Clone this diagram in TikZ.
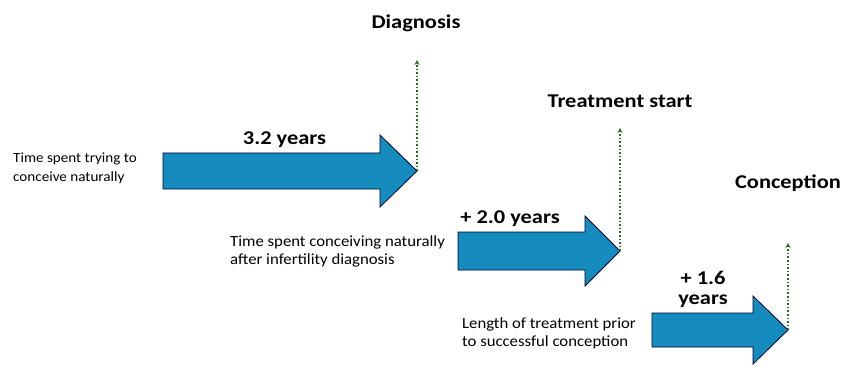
\documentclass[tikz,border=0pt]{standalone}
\usetikzlibrary{arrows.meta}
\usepackage{fontspec}
\setmainfont{Carlito}
\newfontfamily\headfont[FakeStretch=1.15]{Carlito}
\newfontfamily\descfont[FakeStretch=1.08]{Carlito}
\begin{document}
\begin{tikzpicture}[x=1pt,y=-1pt,
  bigarrow/.style={draw=black!80!blue, line width=0.8pt, fill={rgb,255:red,22;green,140;blue,190}},
  mark line/.style={draw={rgb,255:red,40;green,110;blue,30}, line width=1.6pt, dotted, -{Stealth[length=5pt,width=5pt]}},
  milestone/.style={font=\headfont\bfseries\fontsize{19.5}{20}\selectfont, inner sep=0pt, anchor=base},
  dur/.style={font=\headfont\bfseries\fontsize{19.5}{20}\selectfont, inner sep=0pt, anchor=base, align=center},
  desc/.style={font=\descfont\fontsize{15.5}{18}\selectfont, inner sep=0pt, align=left, anchor=base west}]
\useasboundingbox (0,0) rectangle (845,366);
% arrows
\draw[bigarrow] (163,153) -- (380,153) -- (380,135) -- (417,171) -- (380,207) -- (380,189) -- (163,189) -- cycle;
\draw[bigarrow] (458,232) -- (585,232) -- (585,216) -- (620,251) -- (585,286) -- (585,270) -- (458,270) -- cycle;
\draw[bigarrow] (652,313) -- (753,313) -- (753,296) -- (788,330) -- (753,364) -- (753,347) -- (652,347) -- cycle;
% tips and tops
\coordinate (t1) at (417,171);
\coordinate (u1) at (417,60);
\coordinate (t2) at (620,251);
\coordinate (u2) at (620,128);
\coordinate (t3) at (788,330);
\coordinate (u3) at (788,243);
\draw[mark line] (t1) -- (u1);
\draw[mark line] (t2) -- (u2);
\draw[mark line] (t3) -- (u3);
% milestones
\node[milestone] (m1) at (416,29) {Diagnosis};
\node[milestone] (m2) at (620,108) {Treatment start};
\node[milestone] (m3) at (788,189) {Conception};
% durations
\node[dur] (d1) at (284.5,145) {3.2 years};
\node[dur] (d2) at (510,223) {+ 2.0 years};
\node[dur] (d3) at (703,304) {+ 1.6\\years};
% descriptions
\node[desc, font=\descfont\fontsize{14}{19}\selectfont] (s1) at (13,182) {Time spent trying to\\conceive naturally};
\node[desc] (s2) at (230,264) {Time spent conceiving naturally\\after infertility diagnosis};
\node[desc] (s3) at (462,346) {Length of treatment prior\\to successful conception};
\end{tikzpicture}
\end{document}
